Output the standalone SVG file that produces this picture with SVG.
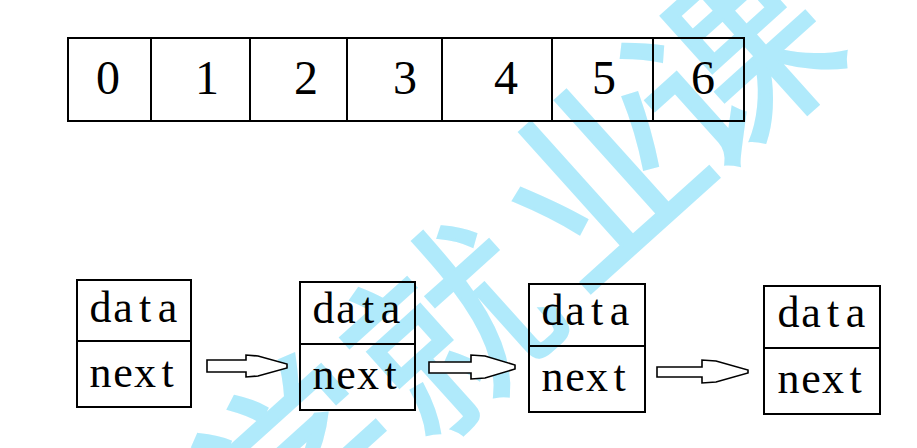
<svg xmlns="http://www.w3.org/2000/svg" width="917" height="448" viewBox="0 0 917 448">
<style>
.box{fill:none;stroke:#000;stroke-width:2}
.dig{font-family:"Liberation Serif",serif;font-size:48px;fill:#000;text-anchor:middle}
.lbl{font-family:"Liberation Serif",serif;font-size:44px;fill:#000;text-anchor:middle}
.arr{fill:#fff;stroke:#000;stroke-width:1.6;stroke-linejoin:miter}
.wm{font-family:"Noto Sans CJK SC",sans-serif;font-size:195px;fill:#b0eafb;stroke:#b0eafb;stroke-width:3;text-anchor:middle;dominant-baseline:central}
</style>
<rect width="917" height="448" fill="#fff"/>
<g id="watermark">
<text class="wm" transform="translate(724,54) rotate(-42)">课</text>
<text class="wm" transform="translate(594,168) rotate(-42)">业</text>
<text class="wm" transform="translate(442,320) rotate(-42)">就</text>
<text class="wm" transform="translate(290,455) rotate(-42)">学</text>
</g>
<g id="array">
<rect class="box" x="68" y="38" width="676" height="83"/>
<line class="box" x1="151" y1="38" x2="151" y2="121"/>
<line class="box" x1="250" y1="38" x2="250" y2="121"/>
<line class="box" x1="347" y1="38" x2="347" y2="121"/>
<line class="box" x1="442" y1="38" x2="442" y2="121"/>
<line class="box" x1="552" y1="38" x2="552" y2="121"/>
<line class="box" x1="653" y1="38" x2="653" y2="121"/>
<text class="dig" x="108" y="94">0</text>
<text class="dig" x="207" y="94">1</text>
<text class="dig" x="306" y="94">2</text>
<text class="dig" x="405" y="94">3</text>
<text class="dig" x="506" y="94">4</text>
<text class="dig" x="604" y="94">5</text>
<text class="dig" x="703" y="94">6</text>
</g>
<g id="node1">
<rect class="box" x="77" y="280" width="114" height="127"/>
<line class="box" x1="77" y1="341" x2="191" y2="341"/>
<text class="lbl" x="100.5 123 145 167.5" y="322">data</text>
<text class="lbl" x="100.5 123 145 167.5" y="387">next</text>
</g>
<g id="node2">
<rect class="box" x="300" y="282" width="115" height="128"/>
<line class="box" x1="300" y1="344" x2="415" y2="344"/>
<text class="lbl" x="323.5 346 368 390.5" y="323">data</text>
<text class="lbl" x="323.5 346 368 390.5" y="389">next</text>
</g>
<g id="node3">
<rect class="box" x="529" y="284" width="116" height="128"/>
<line class="box" x1="529" y1="346" x2="645" y2="346"/>
<text class="lbl" x="552.5 575 597 619.5" y="325">data</text>
<text class="lbl" x="552.5 575 597 619.5" y="391">next</text>
</g>
<g id="node4">
<rect class="box" x="764" y="286" width="116" height="128"/>
<line class="box" x1="764" y1="348" x2="880" y2="348"/>
<text class="lbl" x="788.5 811 833 855.5" y="327">data</text>
<text class="lbl" x="788.5 811 833 855.5" y="393">next</text>
</g>
<g id="connectors">
<polygon class="arr" points="207,360 246,360 246,355 258,356 287,364 287,368 258,376 246,377 246,372 207,372"/>
<polygon class="arr" points="429,362 471,362 471,355 485,356 515,365 515,369 485,378 471,379 471,373 429,373"/>
<polygon class="arr" points="657,367 702,367 702,360 716,361 748,370 748,373 716,382 702,383 702,377 657,377"/>
</g>
</svg>
